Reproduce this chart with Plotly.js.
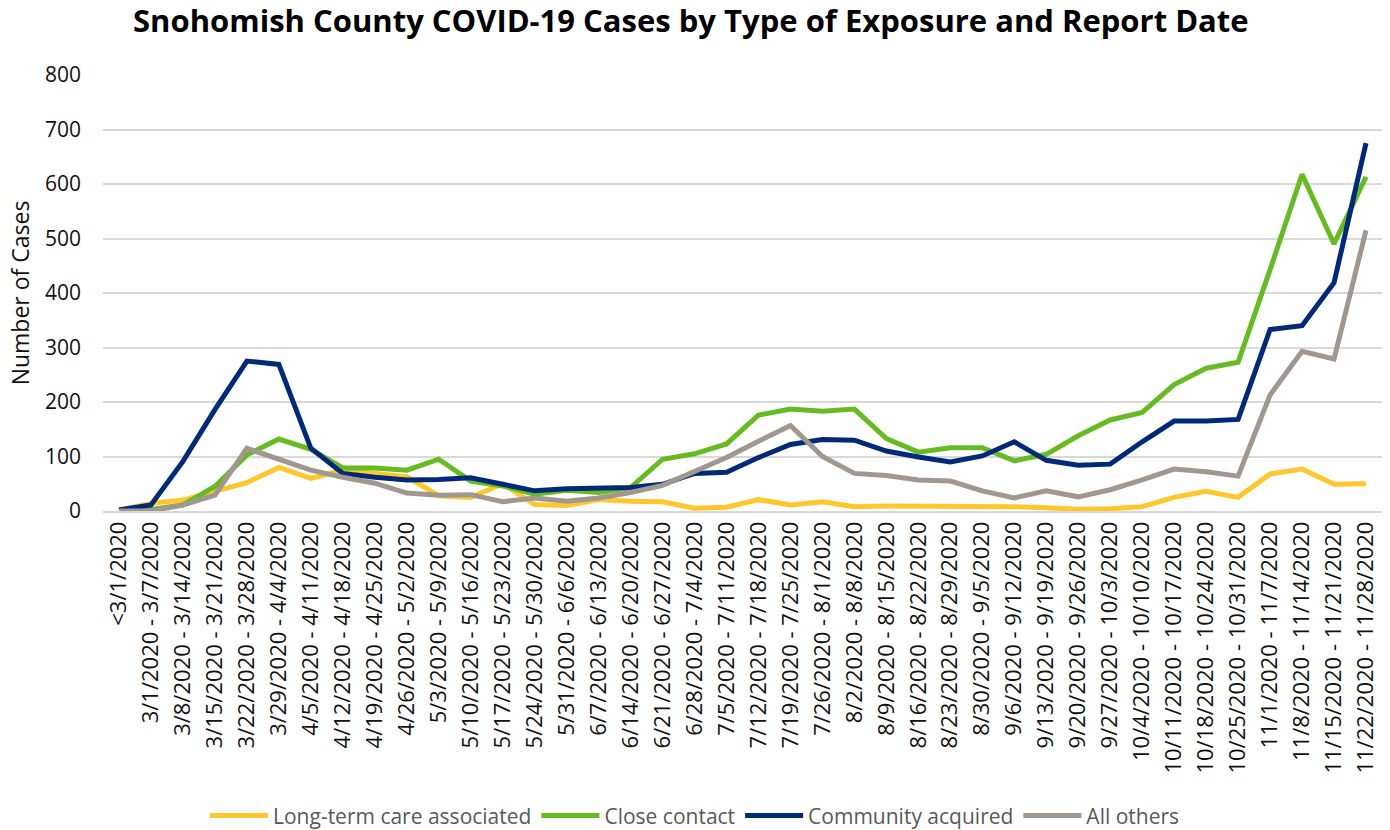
<!DOCTYPE html>
<html>
<head>
<meta charset="utf-8">
<script src="https://cdn.plot.ly/plotly-3.0.1.min.js"></script>
<style>html,body{margin:0;padding:0;background:#fff;}#chart{width:1390px;height:830px;}</style>
</head>
<body>
<div id="chart"></div>
<script>
const weeks = ["<3/1/2020","3/1/2020 - 3/7/2020","3/8/2020 - 3/14/2020","3/15/2020 - 3/21/2020","3/22/2020 - 3/28/2020","3/29/2020 - 4/4/2020","4/5/2020 - 4/11/2020","4/12/2020 - 4/18/2020","4/19/2020 - 4/25/2020","4/26/2020 - 5/2/2020","5/3/2020 - 5/9/2020","5/10/2020 - 5/16/2020","5/17/2020 - 5/23/2020","5/24/2020 - 5/30/2020","5/31/2020 - 6/6/2020","6/7/2020 - 6/13/2020","6/14/2020 - 6/20/2020","6/21/2020 - 6/27/2020","6/28/2020 - 7/4/2020","7/5/2020 - 7/11/2020","7/12/2020 - 7/18/2020","7/19/2020 - 7/25/2020","7/26/2020 - 8/1/2020","8/2/2020 - 8/8/2020","8/9/2020 - 8/15/2020","8/16/2020 - 8/22/2020","8/23/2020 - 8/29/2020","8/30/2020 - 9/5/2020","9/6/2020 - 9/12/2020","9/13/2020 - 9/19/2020","9/20/2020 - 9/26/2020","9/27/2020 - 10/3/2020","10/4/2020 - 10/10/2020","10/11/2020 - 10/17/2020","10/18/2020 - 10/24/2020","10/25/2020 - 10/31/2020","11/1/2020 - 11/7/2020","11/8/2020 - 11/14/2020","11/15/2020 - 11/21/2020","11/22/2020 - 11/28/2020"];

const longTermCare = [2,14,20,36,52,80,60,75,70,63,28,25,50,12,10,21,18,17,5,7,21,11,17,8,9,9,10,9,8,6,3,4,8,25,36,25,68,77,49,50];
const closeContact = [2,3,11,45,103,132,113,79,79,75,95,55,46,31,38,34,43,95,105,123,176,187,183,187,133,108,116,116,92,104,138,167,181,232,262,273,443,618,490,613];
const communityAcquired = [2,11,91,186,275,269,115,69,62,57,58,61,49,37,41,43,43,49,69,71,98,122,131,130,110,99,90,101,127,93,84,86,127,165,165,168,333,340,419,675];
const allOthers = [0,0,11,29,115,94,75,62,51,33,29,30,17,24,18,24,34,47,72,98,128,157,100,69,65,57,55,37,24,37,26,39,57,77,72,64,213,293,279,515];

const seriesNames = ["Long-term care associated","Close contact","Community acquired","All others"];
const seriesColors = ["#FFC72C","#66BB22","#002A78","#A0978E"];
const seriesData = [longTermCare, closeContact, communityAcquired, allOthers];

const traces = seriesData.map((vals, k) => ({
  type: "scatter",
  mode: "lines",
  x: weeks,
  y: vals,
  name: seriesNames[k],
  line: {color: seriesColors[k], width: 5, shape: "linear"},
  hoverinfo: "x+y+name"
}));

const FONT = "'Open Sans', 'Noto Sans', sans-serif";

const layout = {
  width: 1390,
  height: 830,
  paper_bgcolor: "#ffffff",
  plot_bgcolor: "#ffffff",
  font: {family: FONT, color: "#111111", size: 20},
  margin: {l: 103, r: 8, t: 75, b: 319},
  title: {
    text: "<b>Snohomish County COVID-19 Cases by Type of Exposure and Report Date</b>",
    font: {family: FONT, size: 31, color: "#000000"},
    x: 0.497, xanchor: "center", yref: "container", y: 0.988, yanchor: "top"
  },
  xaxis: {
    type: "category",
    tickangle: -90,
    tickfont: {size: 22, color: "#111111"},
    showgrid: false,
    showline: true,
    linecolor: "#D9D9D9",
    linewidth: 1.5,
    ticks: "",
    range: [-0.5, weeks.length - 0.5],
    automargin: false
  },
  yaxis: {
    range: [0, 800],
    dtick: 100,
    tickfont: {size: 21, color: "#111111"},
    ticklabelstandoff: 21,
    showgrid: true,
    gridcolor: "#D9D9D9",
    gridwidth: 1.5,
    zeroline: false,
    showline: false,
    ticks: "",
    ticklen: 0,
    title: {text: "Number of Cases", font: {size: 23, color: "#111111"}, standoff: 8},
    automargin: false
  },
  legend: {
    orientation: "h",
    xref: "container",
    x: 0.5, xanchor: "center",
    yref: "container",
    y: 0.017, yanchor: "middle",
    font: {size: 21, color: "#595959"},
    itemwidth: 58,
    traceorder: "normal"
  },
  showlegend: true
};

Plotly.newPlot("chart", traces, layout, {displayModeBar: false, responsive: false});
</script>
</body>
</html>
